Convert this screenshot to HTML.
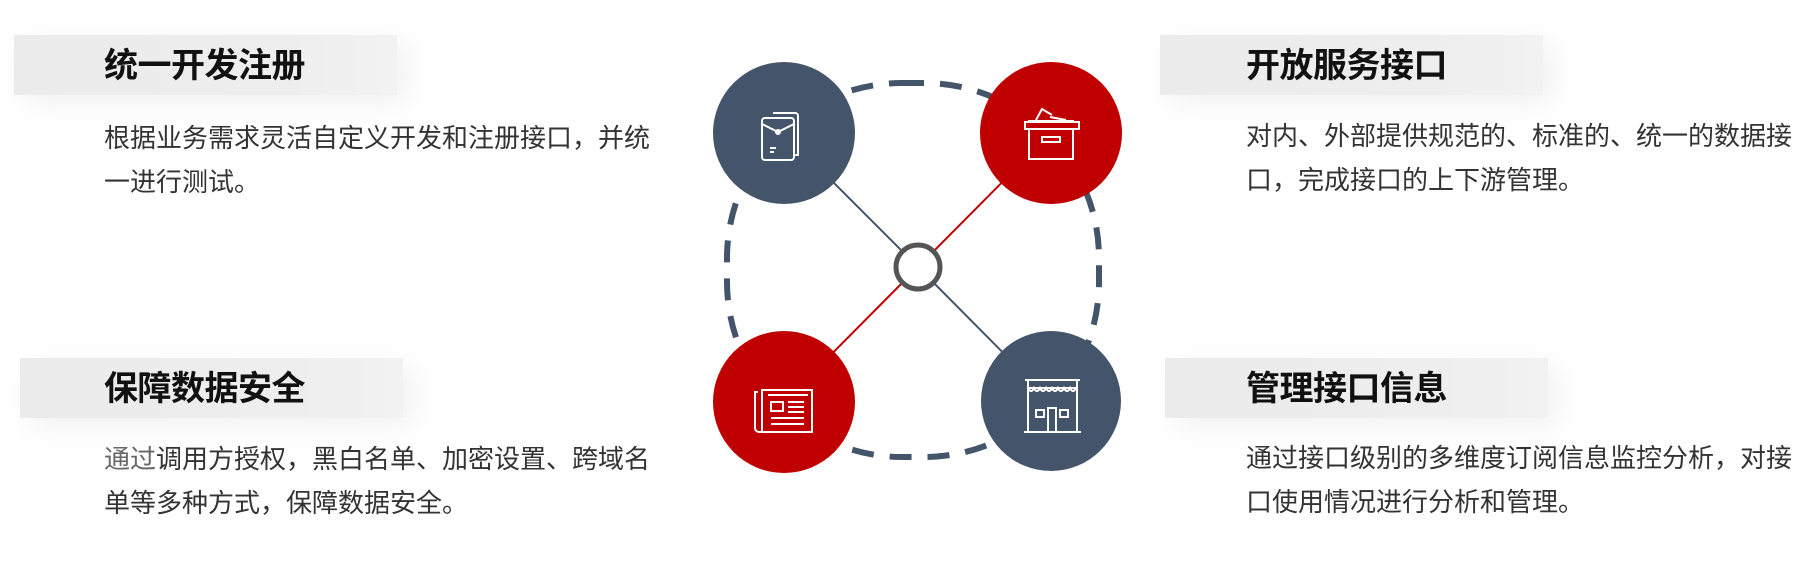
<!DOCTYPE html>
<html><head><meta charset="utf-8"><style>
body{margin:0;width:1809px;height:576px;background:#fff;position:relative;overflow:hidden;font-family:"Liberation Sans","Noto Sans CJK SC",sans-serif;}
.bar{position:absolute;width:383px;height:60px;background:linear-gradient(90deg,#ebebeb,#eeeeee 70%,#f2f2f2);box-shadow:10px 8px 30px rgba(0,0,0,0.06);}
.t{position:absolute;font-size:34px;font-weight:bold;color:#111;line-height:60px;white-space:nowrap;letter-spacing:-0.5px}
.b{position:absolute;font-size:26px;color:#333;line-height:44px;width:560px;}
</style></head><body>
<div class="bar" style="left:14px;top:35px"></div>
<div class="t" style="left:104px;top:36px">统一开发注册</div>
<div class="b" style="left:104px;top:116px">根据业务需求灵活自定义开发和注册接口，并统一进行测试。</div>

<div class="bar" style="left:1160px;top:35px"></div>
<div class="t" style="left:1246px;top:36px">开放服务接口</div>
<div class="b" style="left:1246px;top:114px">对内、外部提供规范的、标准的、统一的数据接口，完成接口的上下游管理。</div>

<div class="bar" style="left:20px;top:358px"></div>
<div class="t" style="left:104px;top:359px">保障数据安全</div>
<div class="b" style="left:104px;top:437px"><span style="color:#666">通过</span>调用方授权，黑白名单、加密设置、跨域名单等多种方式，保障数据安全。</div>

<div class="bar" style="left:1165px;top:358px"></div>
<div class="t" style="left:1246px;top:359px">管理接口信息</div>
<div class="b" style="left:1246px;top:436px">通过接口级别的多维度订阅信息监控分析，对接口使用情况进行分析和管理。</div>

<svg width="1809" height="576" style="position:absolute;left:0;top:0">
<rect x="727" y="83" width="372" height="374" rx="175" ry="175" fill="none" stroke="#44546a" stroke-width="6" stroke-dasharray="22 16"/>
<line x1="784" y1="133" x2="918" y2="267" stroke="#44546a" stroke-width="2"/>
<line x1="918" y1="267" x2="1051" y2="401" stroke="#44546a" stroke-width="2"/>
<line x1="1051" y1="133" x2="918" y2="267" stroke="#c00000" stroke-width="2"/>
<line x1="918" y1="267" x2="784" y2="402" stroke="#c00000" stroke-width="2"/>
<circle cx="918" cy="267" r="22" fill="#fff" stroke="#555" stroke-width="5"/>
<circle cx="784" cy="133" r="71" fill="#44546a"/>
<circle cx="1051" cy="133" r="71" fill="#c00000"/>
<circle cx="784" cy="402" r="71" fill="#c00000"/>
<circle cx="1051" cy="401" r="70" fill="#44546a"/>
<g fill="none" stroke="#fff" stroke-width="2">
<rect x="762" y="118" width="32" height="42" rx="3"/>
<path d="M773 113 h22 a3 3 0 0 1 3 3 v39 h-4"/>
<path d="M762 124 l16 8 l16 -8"/><circle cx="778" cy="132" r="2"/>
<path d="M770 148h6M770 152h4"/>
<rect x="1029" y="121" width="44" height="38"/>
<rect x="1025" y="122" width="54" height="7" fill="#c00000"/>
<rect x="1042" y="137" width="18" height="5"/>
<path d="M1036 120 l6 -11 l10 6 M1050 117 l16 3"/>
<path d="M758 392 h-3 v36 a4 4 0 0 0 4 4 h53 v-42 h-50 v42"/>
<rect x="771" y="402" width="12" height="9"/>
<path d="M788 402h16M788 407h16M788 412h16M771 418h33M771 424h33M768 395h40"/>
<path d="M1025 380 h55 M1028 380 v52 M1077 380 v52 M1024 432 h57 M1028 388 h49"/>
<path d="M1028 388 q3 6 6 0 q3 6 6 0 q3 6 6 0 q3 6 6 0 q3 6 6 0 q3 6 6 0 q3 6 6 0 q3 6 6 0"/>
<rect x="1036" y="410" width="8" height="7"/><rect x="1060" y="410" width="8" height="7"/>
<path d="M1048 432 v-24 h8 v24"/>
</g>
</svg>
</body></html>
